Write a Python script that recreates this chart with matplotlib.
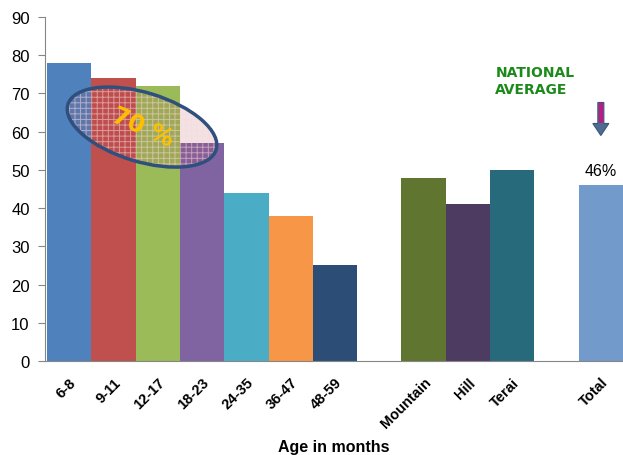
import numpy as np
import matplotlib.pyplot as plt
from matplotlib.patches import Ellipse, Polygon, Rectangle
from matplotlib.transforms import IdentityTransform

# -- Data ---------------------------------------------------------------------
categories = ['6-8', '9-11', '12-17', '18-23', '24-35', '36-47', '48-59',
              'Mountain', 'Hill', 'Terai', 'Total']
values = [78, 74, 72, 57, 44, 38, 25, 48, 41, 50, 46]
positions = [0, 1, 2, 3, 4, 5, 6, 8, 9, 10, 12]
colors = ['#4F81BD', '#C0504D', '#9BBB59', '#8064A2', '#4BACC6', '#F79646',
          '#2C4D75', '#5F7530', '#4D3B62', '#276A7C', '#729ACA']
yticks = list(range(0, 91, 10))

plt.rcParams['font.family'] = ['Liberation Sans', 'DejaVu Sans']
plt.rcParams['hatch.linewidth'] = 0.7

# -- Figure -------------------------------------------------------------------
fig = plt.figure(figsize=(6.23, 4.56), dpi=100)
ax = fig.add_axes([45 / 623, 1 - 362 / 456, 578 / 623, 344 / 456])

ax.bar(positions, values, width=1.0, color=colors, zorder=2)

ax.set_xlim(-0.545, 12.5)
ax.set_ylim(0, 90)
ax.set_yticks(yticks)
ax.tick_params(axis='y', labelsize=12, length=5, color='#868686', pad=6)
ax.set_xticks(positions)
ax.set_xticklabels(categories, rotation=45, ha='right', rotation_mode='anchor',
                   fontsize=10.5, fontweight='bold')
ax.tick_params(axis='x', length=0, pad=10)
ax.set_xlabel('Age in months', fontsize=11.5, fontweight='bold', labelpad=6)

for side in ['top', 'right']:
    ax.spines[side].set_visible(False)
for side in ['left', 'bottom']:
    ax.spines[side].set_color('#868686')

# total label
ax.text(positions[-1], values[-1] + 2, '%d%%' % values[-1], ha='center',
        va='bottom', fontsize=11.5)

# national average note and arrow
ax.text(9.62, 73.4, 'NATIONAL\nAVERAGE', color='#1B8A1B',
        family='DejaVu Sans', fontsize=10, fontweight='bold',
        ha='left', va='center', linespacing=1.3)

fig.canvas.draw()
ax_x, ax_y = ax.transData.transform((positions[-1], 59))
arrow_pts = [(ax_x - 3, ax_y + 33), (ax_x + 3, ax_y + 33), (ax_x + 3, ax_y + 12),
             (ax_x + 8, ax_y + 12), (ax_x, ax_y), (ax_x - 8, ax_y + 12),
             (ax_x - 3, ax_y + 12)]
fig.patches.append(Polygon(arrow_pts, closed=True, facecolor='#4F6B8F',
                           edgecolor='#3A5578', linewidth=0.8,
                           transform=IdentityTransform(), figure=fig))
fig.patches.append(Rectangle((ax_x - 2, ax_y + 12), 4, 20, facecolor='#C71585',
                             edgecolor='none', transform=IdentityTransform(),
                             figure=fig))

# highlighted ellipse
cx, cy = ax.transData.transform((1.645, 61.2))
tint = Ellipse((cx, cy), 155, 69, angle=-17, facecolor=(0.7, 0.25, 0.3, 0.15),
               edgecolor='none', transform=IdentityTransform(), zorder=3)
ax.add_patch(tint)
hatch = Ellipse((cx, cy), 155, 69, angle=-17, facecolor='none',
                edgecolor=(0.97, 0.85, 0.85, 0.55), hatch='+++', linewidth=0,
                transform=IdentityTransform(), zorder=3)
ax.add_patch(hatch)
ring = Ellipse((cx, cy), 155, 69, angle=-17, facecolor='none',
               edgecolor='#2F4F7F', linewidth=2.5,
               transform=IdentityTransform(), zorder=4)
ax.add_patch(ring)
ax.text(1.645, 61.2, '70 %', color='#FFC000', family='DejaVu Sans',
        fontsize=17, fontweight='bold', rotation=-24, ha='center',
        va='center', zorder=5)

fig.savefig('out.png', dpi=100)
